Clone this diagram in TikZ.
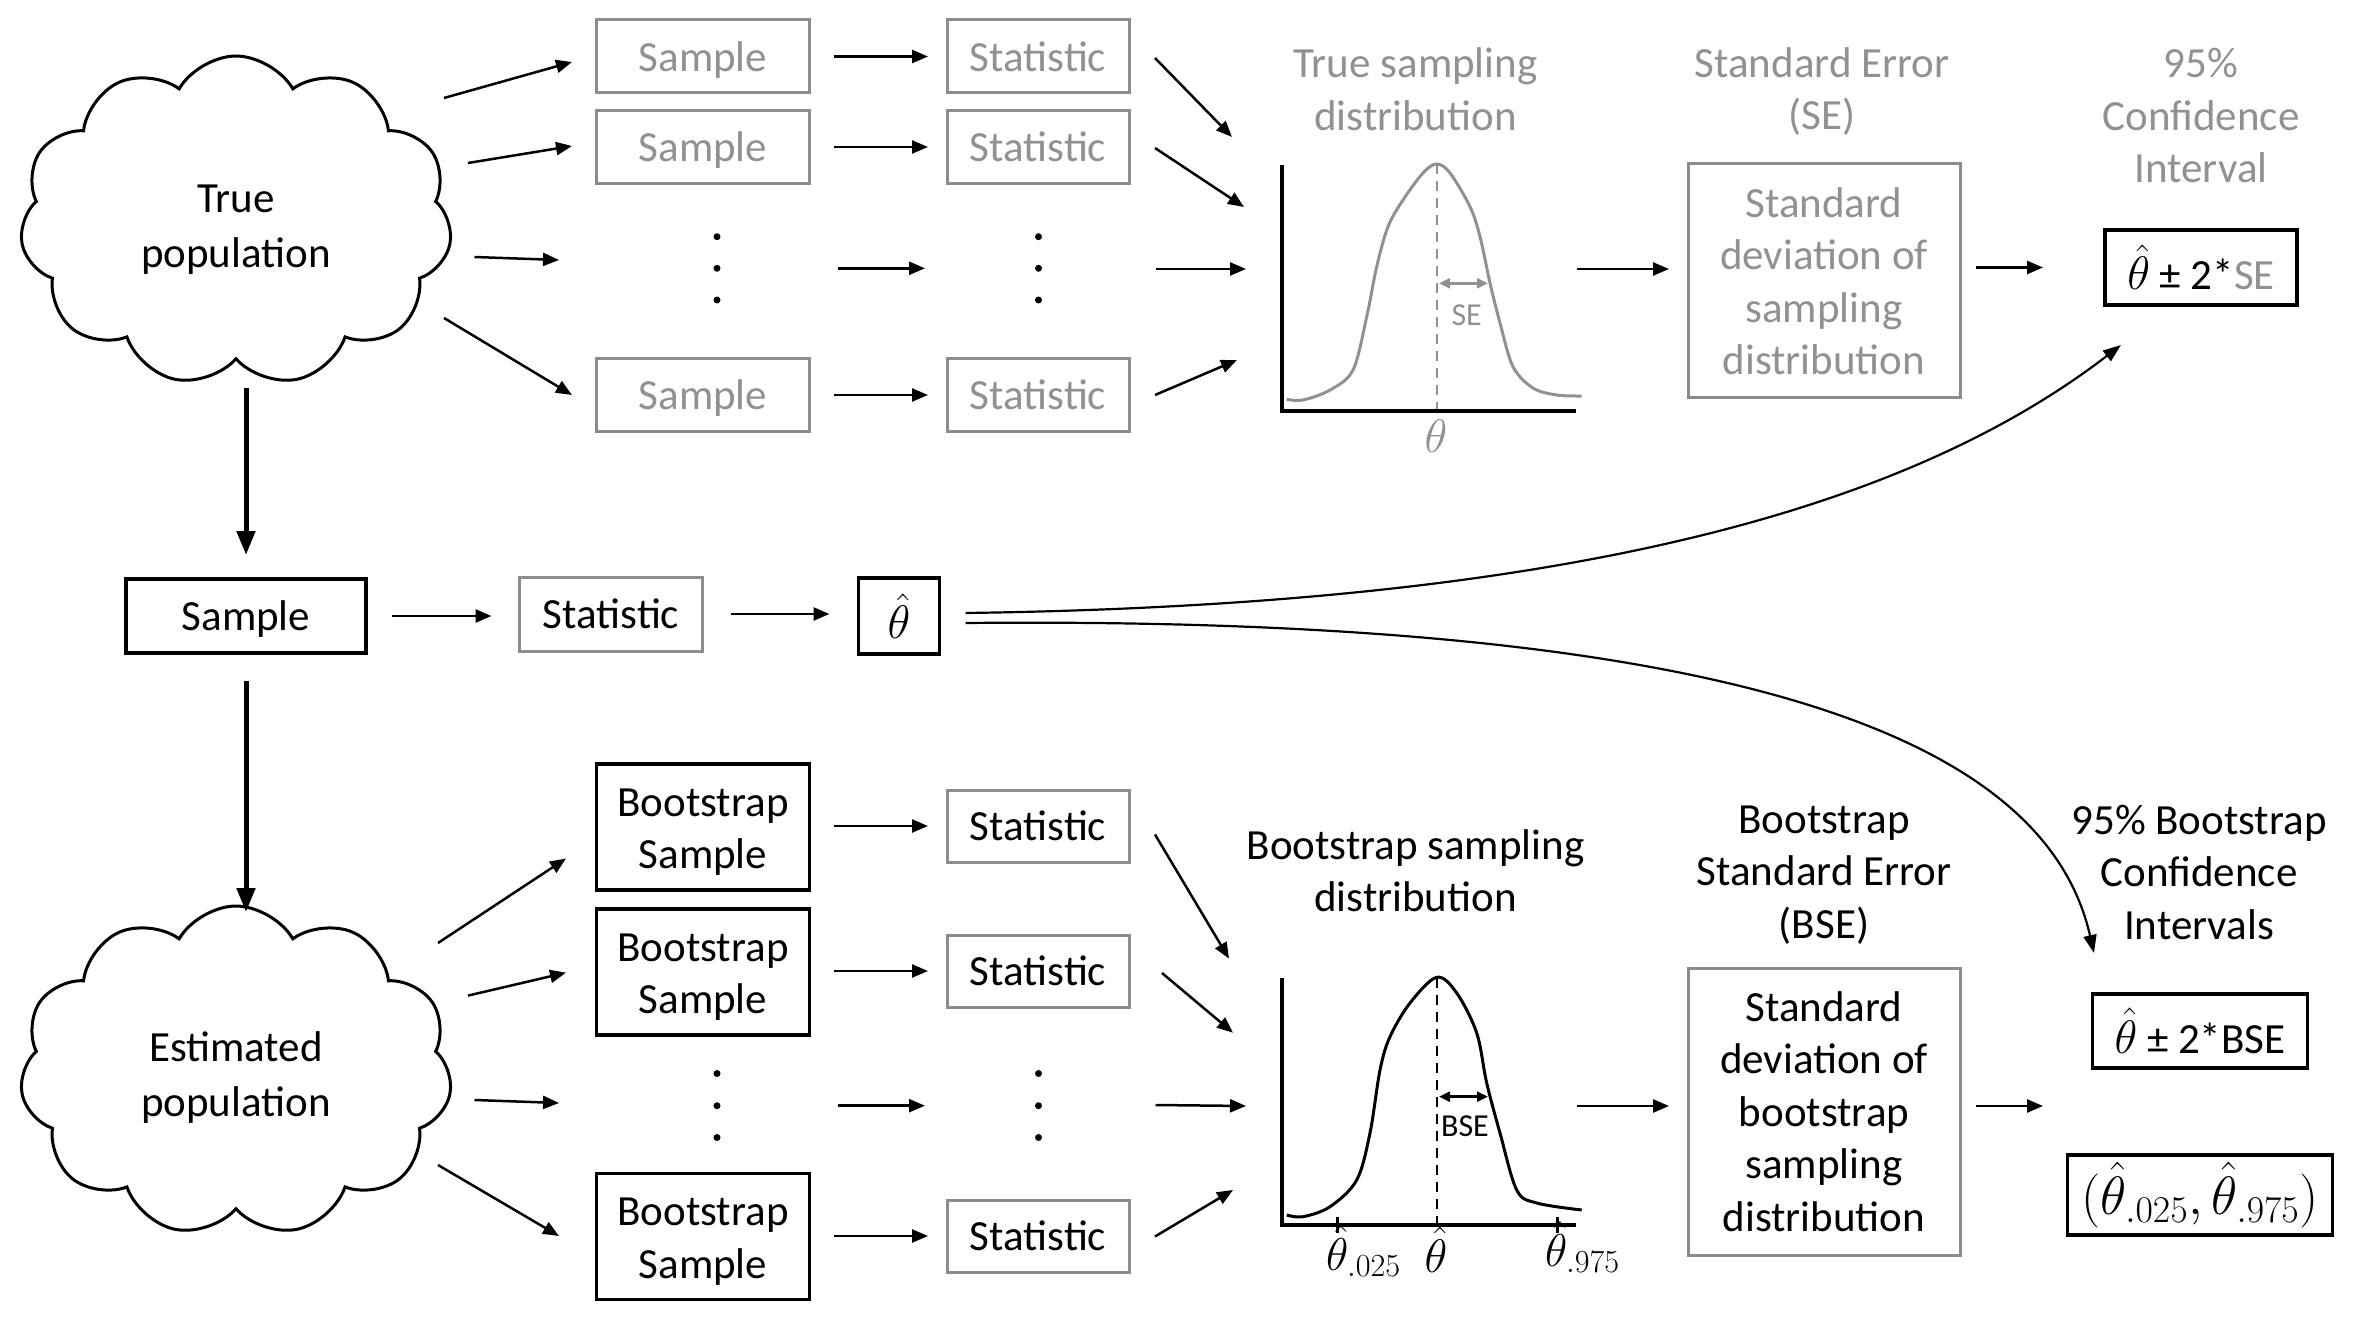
\RequirePackage{fix-cm}
\documentclass[tikz,border=0pt]{standalone}
\usepackage{fontspec}
\setmainfont{Carlito}
\usetikzlibrary{shapes.symbols,arrows.meta}
\definecolor{gtxt}{RGB}{145,145,145}
\definecolor{gline}{RGB}{140,140,140}
\newcommand{\thh}{{\fontsize{47}{50}\selectfont$\hat{\theta}$}}
\begin{document}
\begin{tikzpicture}[x=1pt,y=-1pt,
  every node/.style={font=\fontsize{43}{52.5}\selectfont, inner sep=0pt, outer sep=0pt},
  gbox/.style={draw=gline, line width=3pt, text=gtxt, align=center},
  gbk/.style={draw=gline, line width=3pt, text=black, align=center},
  bbox/.style={draw=black, line width=3.5pt, text=black, align=center},
  sl/.style={text depth=0pt},
  ttl/.style={align=center, text=gtxt},
  ttlb/.style={align=center, text=black},
  arr/.style={line width=2.5pt, -{Triangle[length=16pt,width=13pt]}},
  bigarr/.style={line width=5pt, -{Triangle[length=24pt,width=18pt]}},
  curvarr/.style={line width=2.2pt, -{Triangle[length=18pt,width=13pt]}},
  dotn/.style={circle, fill=black, minimum size=7pt},
  cloudsh/.style={cloud, cloud puffs=11, cloud puff arc=120, aspect=1.42, draw=black, line width=3pt,
    minimum width=432pt, minimum height=330pt},
  cloudtxt/.style={align=center, font=\fontsize{43}{55}\selectfont},
  axis/.style={line width=4pt},
  dsh/.style={line width=2pt, dash pattern=on 10pt off 7pt},
  small/.style={font=\fontsize{32}{36}\selectfont},
]
\path[use as bounding box, fill=white] (0,0) rectangle (2354,1321);

% ---------------- top: true population ----------------
\node[cloudsh] (C1) at (236,221) {};
\node[cloudtxt] (C1t) at (236,230) {True\\population};

\foreach \n/\y in {1/56.5, 2/147, 4/395}{
  \node[gbox, sl, minimum width=213pt, minimum height=73pt] (S\n) at (703,\y) {Sample};
  \node[gbox, sl, minimum width=182pt, minimum height=73pt] (T\n) at (1038,\y) {Statistic};
  \draw[arr, shorten <=24pt, shorten >=19pt] (S\n.east) -- (T\n.west);
}
\foreach \y [count=\i] in {236.7, 268.3, 300}{
  \node[dotn] (sd\i) at (717,\y) {};
  \node[dotn] (td\i) at (1038.5,\y) {};
}
\draw[arr, shorten <=117pt, shorten >=110pt] (sd2) -- (td2);

\coordinate (ca1) at (444,98);   \coordinate (cb1) at (572,62);
\coordinate (ca2) at (468,163);  \coordinate (cb2) at (572,146);
\coordinate (ca3) at (474.5,257);\coordinate (cb3) at (559,260);
\coordinate (ca4) at (444,318);  \coordinate (cb4) at (572,395);
\foreach \i in {1,2,3,4}{ \draw[arr] (ca\i) -- (cb\i); }

% statistic -> plot
\coordinate (pa1) at (1232,137);
\coordinate (pa2) at (1244,207);
\coordinate (pa3) at (1246,269);
\coordinate (pa4) at (1237,360);
\draw[arr] ([shift={(26,1.5)}]T1.east) -- (pa1);
\draw[arr] ([shift={(26,1)}]T2.east) -- (pa2);
\draw[arr] ([shift={(117,0.7)}]td2.center) -- (pa3);
\draw[arr] ([shift={(26,0)}]T4.east) -- (pa4);

% plot 1
\draw[dsh, gtxt] (1436.7,164) -- (1436.7,411);
\draw[line width=3pt, gtxt, line join=round] plot[smooth, tension=0.55] coordinates {
 (1286.7,399.3) (1303,400) (1330,390) (1353,370) (1366.7,316.7) (1376.7,266.7) (1388,226.7)
 (1403,200) (1423,173) (1436.7,164) (1450,173) (1470,206.7) (1480,236.7) (1490,283)
 (1500,323) (1513,366.7) (1533,388) (1556.7,395) (1581.7,396)};
\draw[axis] (1281.7,165) -- (1281.7,411) -- (1576,411);
\draw[gtxt, line width=2.5pt, {Triangle[length=11pt,width=10pt]}-{Triangle[length=11pt,width=10pt]}] (1439,283.3) -- (1488,283.3);
\node[small, text=gtxt] (selab) at (1466.7,315) {SE};
\node[text=gtxt, anchor=base, font=\fontsize{47}{50}\selectfont] (thlab) at (1436,453) {$\theta$};

\node[ttl] (t1) at (1415.6,89) {True sampling\\distribution};
\node[ttl] (t2) at (1822,91.5) {Standard Error\\(SE)};
\node[ttl] (t3) at (2201,115.5) {95\%\\Confidence\\Interval};

\node[gbox, minimum width=272pt, minimum height=234pt] (SEbox) at (1824,281)
  {Standard\\deviation of\\sampling\\distribution};
\node[bbox, minimum width=192pt, minimum height=75pt] (CI1) at (2201,267.5)
  {\thh{} ± 2*{\color{gtxt}SE}};

\coordinate (pr1) at (1577,269);
\draw[arr, shorten >=19pt] (pr1) -- (SEbox.west |- pr1);
\draw[arr, shorten <=16pt, shorten >=62pt] (SEbox.east |- CI1.west) -- (CI1.west);

% ---------------- middle ----------------
\node[bbox, sl, minimum width=240pt, minimum height=74pt] (M1) at (246,616) {Sample};
\node[gbk, sl, minimum width=183pt, minimum height=74pt] (M2) at (611,614) {Statistic};
\node[bbox, minimum width=81pt, minimum height=76pt] (M3) at (899,616) {\thh};
\draw[bigarr, shorten <=10pt, shorten >=24pt] (M1.north |- 0,378) -- (M1.north);
\draw[arr, shorten <=26pt, shorten >=28pt] (M1.east) -- (M2.west |- M1.east);
\draw[arr, shorten <=28pt, shorten >=29pt] (M2.east) -- (M3.west |- M2.east);

\coordinate (ci1t) at (2121,345);
\coordinate (cibt) at (2094,953);
\draw[curvarr] ([shift={(26,-3)}]M3.east) .. controls (1550,605) and (1900,515) .. (ci1t);
\draw[curvarr] ([shift={(26,7)}]M3.east) .. controls (1800,615) and (2050,760) .. (cibt);

% ---------------- bottom: bootstrap ----------------
\node[cloudsh] (C2) at (236,1071) {};
\node[cloudtxt] (C2t) at (236,1078) {Estimated\\population};
\draw[bigarr, shorten <=28pt, shorten >=9pt] (M1.south) -- (M1.south |- 0,921);

\foreach \n/\y/\z in {1/827/826, 2/972/971, 4/1236.5/1236}{
  \node[bbox, minimum width=213pt, minimum height=126pt] (B\n) at (703,\y) {};
  \node[align=center] (B\n t) at (703,\y+5) {Bootstrap\\Sample};
  \node[gbk, sl, minimum width=182pt, minimum height=72pt] (U\n) at (1038,\z) {Statistic};
  \draw[arr, shorten <=24pt, shorten >=19pt] (B\n.east |- U\n.west) -- (U\n.west);
}
\foreach \y [count=\i] in {1073.5, 1105.7, 1137.5}{
  \node[dotn] (bd\i) at (717,\y) {};
  \node[dotn] (ud\i) at (1038.5,\y) {};
}
\draw[arr, shorten <=117pt, shorten >=110pt] (bd2) -- (ud2);

\coordinate (ea1) at (438,943);    \coordinate (eb1) at (566,858.5);
\coordinate (ea2) at (468,995.6);  \coordinate (eb2) at (566,972.7);
\coordinate (ea3) at (474.5,1100); \coordinate (eb3) at (559,1103);
\coordinate (ea4) at (438,1165);   \coordinate (eb4) at (559,1236);
\foreach \i in {1,2,3,4}{ \draw[arr] (ea\i) -- (eb\i); }

\coordinate (qa1) at (1229,958.6);
\coordinate (qa2) at (1233,1032.7);
\coordinate (qa3) at (1246,1106);
\coordinate (qa4) at (1233,1190);
\draw[arr] ([shift={(26,8.5)}]U1.east) -- (qa1);
\draw[arr] ([shift={(33,2)}]U2.east) -- (qa2);
\draw[arr] ([shift={(117,-0.7)}]ud2.center) -- (qa3);
\draw[arr] ([shift={(26,0.5)}]U4.east) -- (qa4);

% plot 2
\draw[dsh, black] (1436.7,978) -- (1436.7,1225);
\draw[line width=3pt, black, line join=round] plot[smooth, tension=0.55] coordinates {
 (1286.7,1215) (1303,1216.7) (1330,1206.7) (1356.7,1180) (1370,1133) (1380,1070) (1390,1036.7)
 (1410,1003) (1436.7,977.3) (1456.7,993) (1476.7,1033) (1486.7,1083) (1500,1133)
 (1516.7,1190) (1536.7,1203) (1581.7,1210)};
\draw[axis] (1281.7,978) -- (1281.7,1225) -- (1576,1225);
\draw[line width=3pt] (1337.7,1216.7) -- (1337.7,1233);
\draw[line width=3pt] (1557.3,1216.7) -- (1557.3,1233);
\draw[line width=2.5pt, {Triangle[length=11pt,width=10pt]}-{Triangle[length=11pt,width=10pt]}] (1439,1096.7) -- (1488,1096.7);
\node[small] (bselab) at (1465,1126.7) {BSE};
\node[anchor=base west, font=\fontsize{46}{50}\selectfont] (q025) at (1326,1270) {$\hat{\theta}_{.025}$};
\node[anchor=base, font=\fontsize{47}{50}\selectfont] (qhat) at (1436,1272) {$\hat{\theta}$};
\node[anchor=base west, font=\fontsize{46}{50}\selectfont] (q975) at (1545,1266) {$\hat{\theta}_{.975}$};

\node[ttlb] (b1) at (1415.6,870.6) {Bootstrap sampling\\distribution};
\node[ttlb] (b2) at (1824,875) {Bootstrap\\Standard Error\\(BSE)};
\node[ttlb] (b3) at (2199,872) {95\% Bootstrap\\Confidence\\Intervals};

\node[gbk, minimum width=272pt, minimum height=287pt] (BSEbox) at (1824,1111.5)
  {Standard\\deviation of\\bootstrap\\sampling\\distribution};
\node[bbox, minimum width=215pt, minimum height=74pt] (CIb1) at (2200,1031)
  {\thh{} ± 2*BSE};
\node[bbox, minimum width=265pt, minimum height=80pt, font=\fontsize{54}{60}\selectfont] (CIb2) at (2200,1195)
  {$(\hat{\theta}_{.025},\hat{\theta}_{.975})$};

\coordinate (pr2) at (1577,1106);
\coordinate (cim) at (2043,1106);
\draw[arr, shorten >=19pt] (pr2) -- (BSEbox.west |- pr2);
\draw[arr, shorten <=16pt] (BSEbox.east |- cim) -- (cim);
\end{tikzpicture}
\end{document}
